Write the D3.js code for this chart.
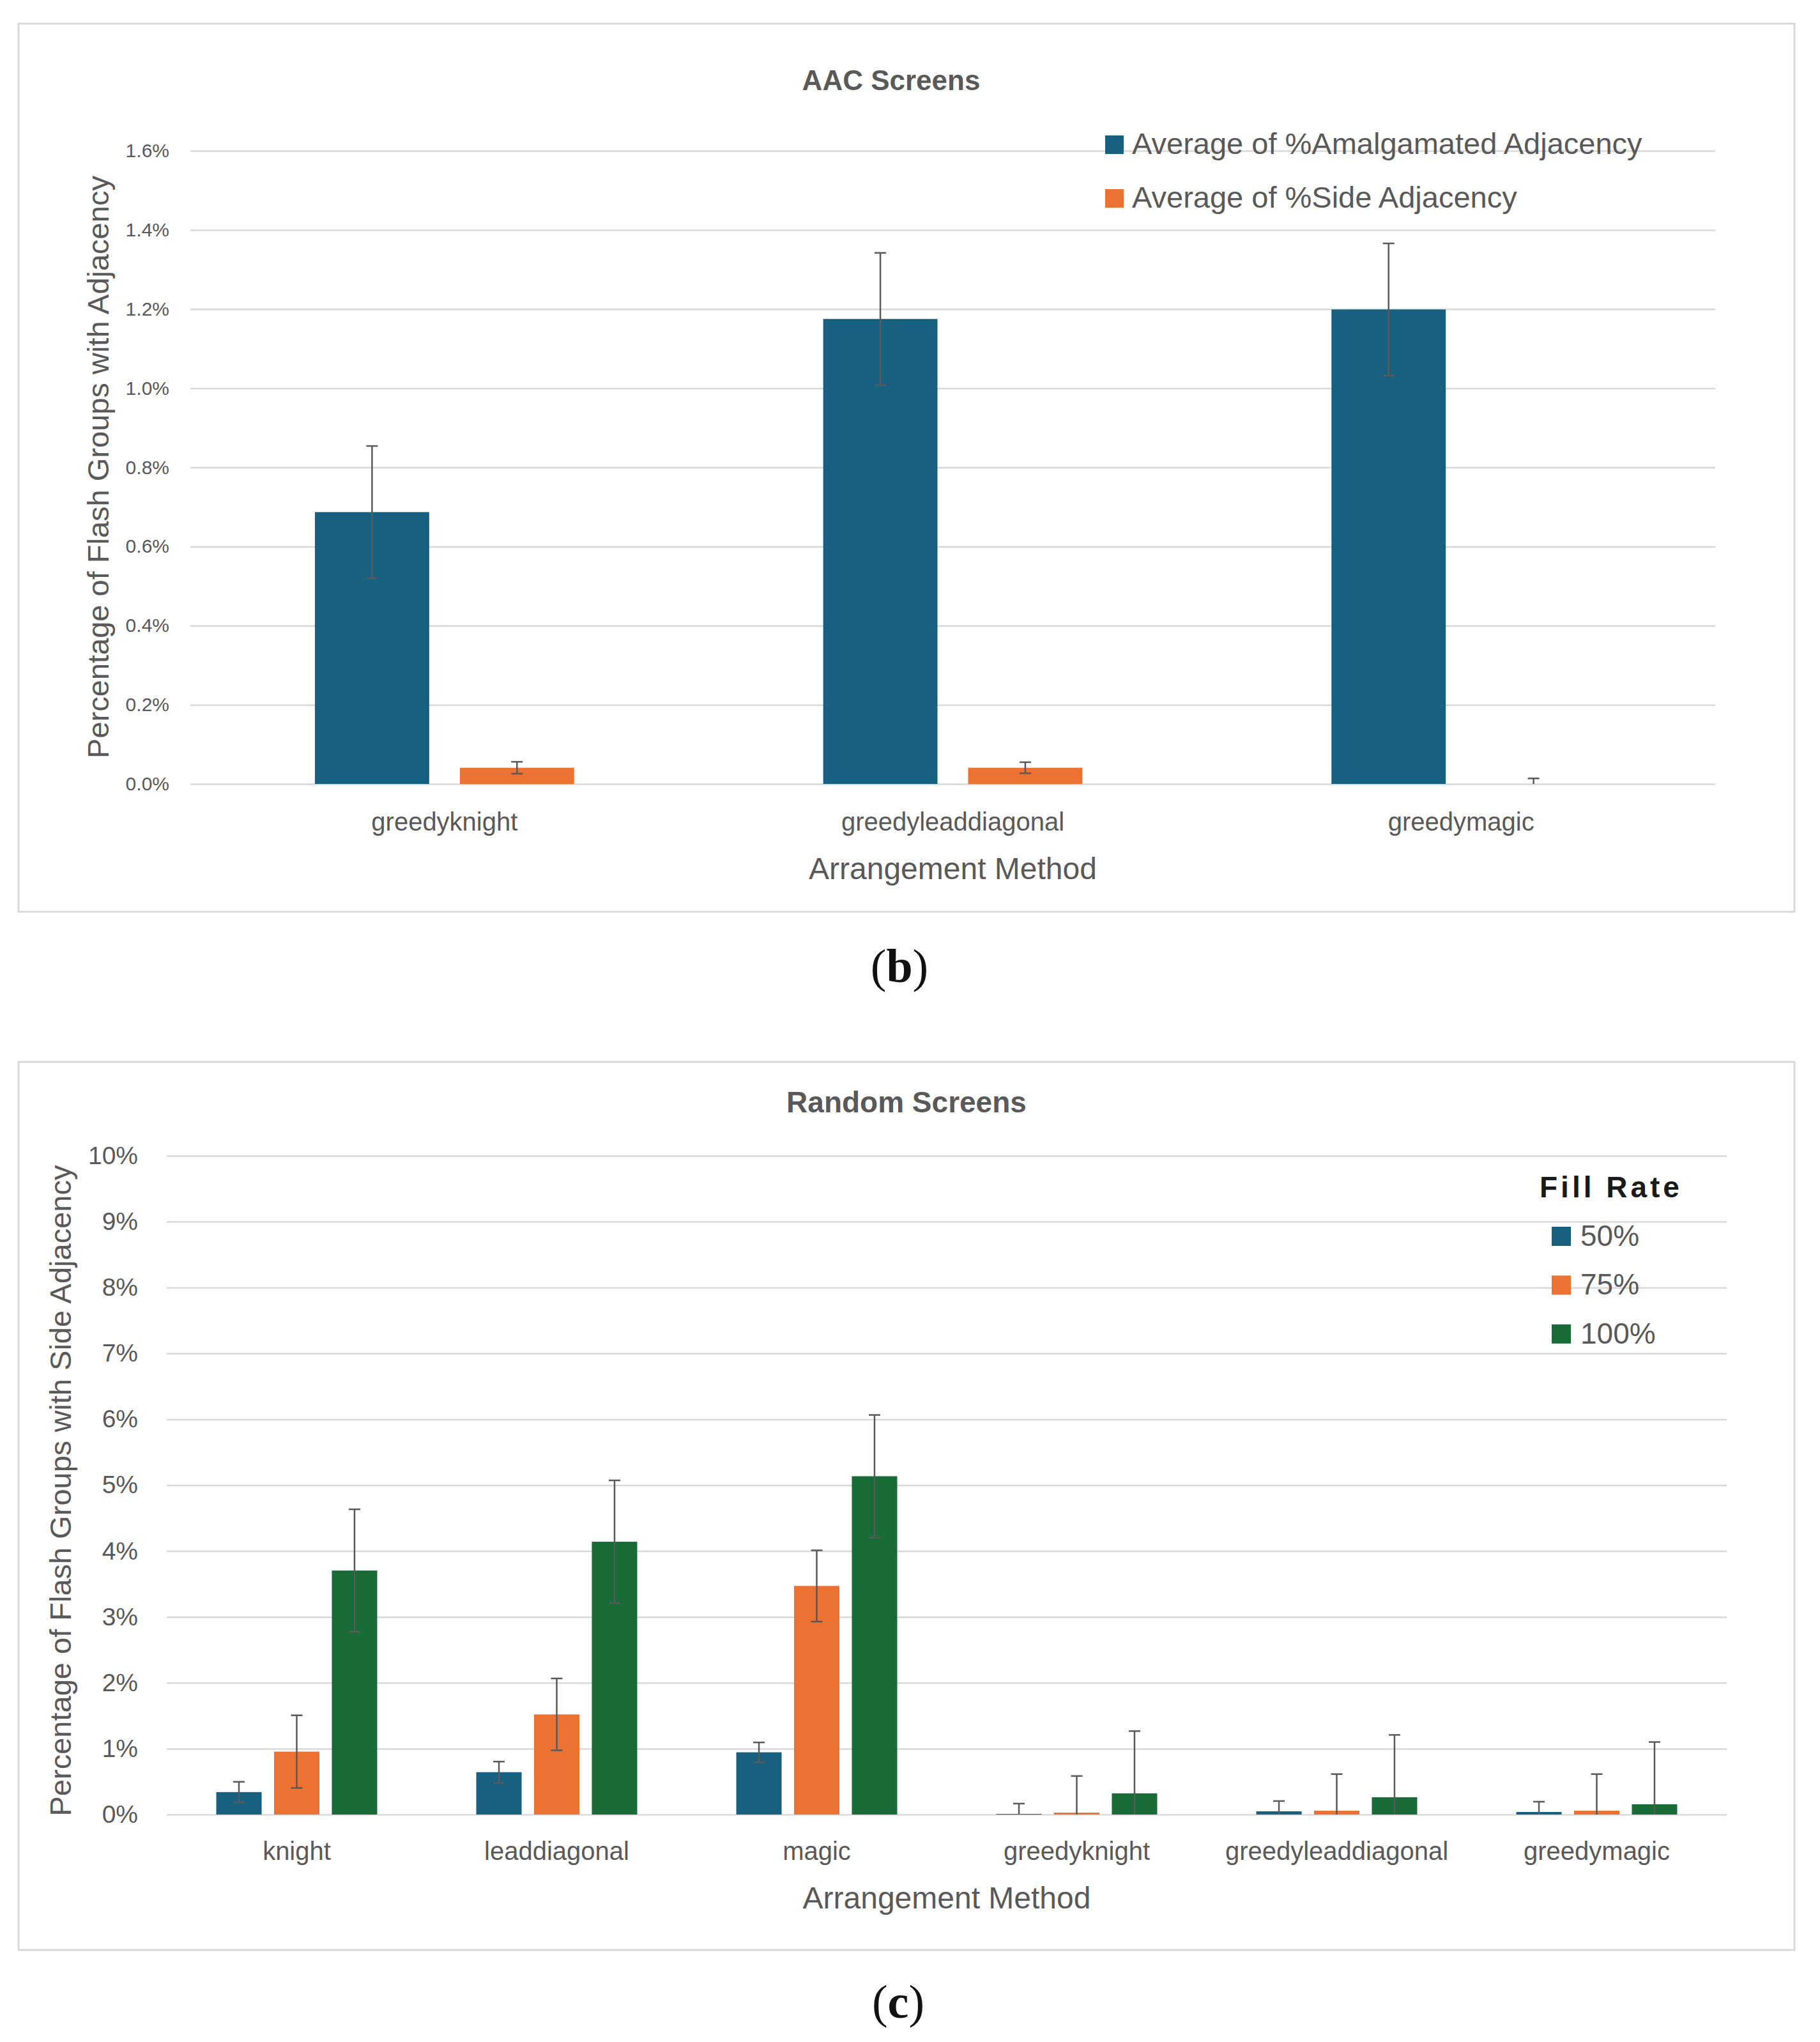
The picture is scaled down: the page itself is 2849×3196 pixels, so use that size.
<!DOCTYPE html>
<html>
<head>
<meta charset="utf-8">
<script src="https://cdn.jsdelivr.net/npm/d3@7"></script>
<style>
  body { margin: 0; background: #fff; }
  text { font-family: "Liberation Sans", Arial, sans-serif; }
  .serif { font-family: "Liberation Serif", "Times New Roman", serif; }
</style>
</head>
<body>
<svg id="chart"></svg>
<script>
// (b) AAC screens
var aacCategories = ["greedyknight", "greedyleaddiagonal", "greedymagic"];
var aacSeries = ["Average of %Amalgamated Adjacency", "Average of %Side Adjacency"];
var aacAmalgamated = [0.687, 1.175, 1.199];
var aacAmalgamatedErr = [0.167, 0.167, 0.167];
var aacSide = [0.041, 0.041, 0];
var aacSideErr = [0.015, 0.014, 0.014];
var aacTicks = [0, 0.2, 0.4, 0.6, 0.8, 1.0, 1.2, 1.4, 1.6];

// (c) random screens
var randCategories = ["knight", "leaddiagonal", "magic", "greedyknight", "greedyleaddiagonal", "greedymagic"];
var fillRates = ["50%", "75%", "100%"];
var rand50 = [0.341, 0.643, 0.945, 0.01, 0.049, 0.039];
var rand50Err = [0.156, 0.161, 0.15, 0.156, 0.156, 0.156];
var rand75 = [0.955, 1.52, 3.47, 0.029, 0.058, 0.058];
var rand75Err = [0.551, 0.546, 0.541, 0.556, 0.556, 0.556];
var rand100 = [3.704, 4.142, 5.136, 0.322, 0.263, 0.156];
var rand100Err = [0.93, 0.931, 0.93, 0.945, 0.946, 0.945];
var randTicks = [0, 1, 2, 3, 4, 5, 6, 7, 8, 9, 10];

var blue = "#17607f", orange = "#ec7233", green = "#196b38";
var grey = "#595959", gridColor = "#d9d9d9";

var svg = d3.select("#chart")
    .attr("width", 2849)
    .attr("height", 3196);

svg.append("rect").attr("width", 2849).attr("height", 3196).attr("fill", "#fff");

function drawPanel(p) {
  var g = svg.append("g");

  g.append("rect")
    .attr("x", p.box[0]).attr("y", p.box[1])
    .attr("width", p.box[2]).attr("height", p.box[3])
    .attr("fill", "#fff")
    .attr("stroke", gridColor)
    .attr("stroke-width", 3);

  var y = d3.scaleLinear().domain([0, p.yMax]).range([p.bottom, p.top]);
  var x0 = d3.scaleBand().domain(p.categories).range([p.left, p.right])
    .paddingInner(p.padIn).paddingOuter(p.padIn / 2);
  var x1 = d3.scaleBand().domain(p.series).range([0, x0.bandwidth()])
    .paddingInner(p.barPad);

  // gridlines + tick labels
  var yAxis = g.append("g")
    .attr("transform", "translate(" + p.left + ",0)")
    .call(d3.axisLeft(y).tickValues(p.ticks).tickFormat(p.fmt)
      .tickSize(-(p.right - p.left)).tickPadding(p.tickPad));
  yAxis.select(".domain").remove();
  yAxis.selectAll("line").attr("stroke", gridColor).attr("stroke-width", 2.5);
  yAxis.selectAll("text").attr("fill", grey).attr("font-size", p.tickFont);

  // bars
  var rows = [];
  p.categories.forEach(function(c, i) {
    p.series.forEach(function(s, j) {
      rows.push({ cat: c, ser: s, v: p.values[j][i], e: p.errors[j][i], color: p.colors[j] });
    });
  });

  g.selectAll(".bar")
    .data(rows)
    .enter().append("rect")
    .attr("class", "bar")
    .attr("x", function(d) { return x0(d.cat) + x1(d.ser); })
    .attr("y", function(d) { return y(d.v); })
    .attr("width", x1.bandwidth())
    .attr("height", function(d) { return y(0) - y(d.v); })
    .attr("fill", function(d) { return d.color; });

  // error bars
  var eb = g.selectAll(".err")
    .data(rows)
    .enter().append("g")
    .attr("class", "err")
    .attr("transform", function(d) { return "translate(" + (x0(d.cat) + x1(d.ser) + x1.bandwidth() / 2) + ",0)"; })
    .attr("stroke", grey)
    .attr("stroke-width", 2.5);
  eb.append("line")
    .attr("y1", function(d) { return y(Math.max(0, d.v - d.e)); })
    .attr("y2", function(d) { return y(d.v + d.e); });
  eb.append("line")
    .attr("x1", -9).attr("x2", 9)
    .attr("y1", function(d) { return y(d.v + d.e); })
    .attr("y2", function(d) { return y(d.v + d.e); });
  eb.filter(function(d) { return d.v - d.e > 0; }).append("line")
    .attr("x1", -9).attr("x2", 9)
    .attr("y1", function(d) { return y(d.v - d.e); })
    .attr("y2", function(d) { return y(d.v - d.e); });

  // category axis
  var xAxis = g.append("g")
    .attr("transform", "translate(0," + p.bottom + ")")
    .call(d3.axisBottom(x0).tickSize(0).tickPadding(p.xPad));
  xAxis.select(".domain").remove();
  xAxis.selectAll("text").attr("fill", grey).attr("font-size", p.xFont);

  // titles
  g.append("text")
    .attr("x", p.titleX).attr("y", p.titleY)
    .attr("text-anchor", "middle")
    .attr("font-size", p.titleFont)
    .attr("font-weight", "bold")
    .attr("fill", grey)
    .text(p.title);

  g.append("text")
    .attr("x", (p.left + p.right) / 2).attr("y", p.xTitleY)
    .attr("text-anchor", "middle")
    .attr("font-size", 48)
    .attr("fill", grey)
    .text("Arrangement Method");

  g.append("text")
    .attr("transform", "translate(" + p.yTitleX + "," + p.yTitleY + ") rotate(-90)")
    .attr("text-anchor", "middle")
    .attr("dy", "0.35em")
    .attr("font-size", p.yTitleFont)
    .attr("fill", grey)
    .text(p.yTitle);

  // legend
  var lg = g.append("g");
  if (p.legendTitle) {
    lg.append("text")
      .attr("x", p.legendTitle.x).attr("y", p.legendTitle.y)
      .attr("font-size", 46)
      .attr("font-weight", "bold")
      .attr("letter-spacing", 5)
      .attr("fill", "#1a1a1a")
      .text(p.legendTitle.text);
  }
  var item = lg.selectAll(".item")
    .data(p.series)
    .enter().append("g")
    .attr("transform", function(d, i) { return "translate(" + p.legend.x + "," + (p.legend.y + i * p.legend.step) + ")"; });
  item.append("rect")
    .attr("x", 0).attr("y", -p.legend.sq)
    .attr("width", p.legend.sq).attr("height", p.legend.sq)
    .attr("fill", function(d, i) { return p.colors[i]; });
  item.append("text")
    .attr("x", p.legend.tx).attr("y", 0)
    .attr("font-size", p.legend.font)
    .attr("fill", grey)
    .text(function(d) { return d; });
}

drawPanel({
  box: [29, 37, 2780, 1390],
  left: 298, right: 2685, top: 236, bottom: 1227,
  yMax: 1.6, ticks: aacTicks,
  fmt: function(d) { return d.toFixed(1) + "%"; },
  tickFont: 30, tickPad: 33,
  categories: aacCategories, series: aacSeries,
  values: [aacAmalgamated, aacSide], errors: [aacAmalgamatedErr, aacSideErr],
  colors: [blue, orange],
  padIn: 0.49, barPad: 0.2115,
  xPad: 45, xFont: 40,
  title: "AAC Screens", titleX: 1395, titleY: 141, titleFont: 44,
  xTitleY: 1376,
  yTitle: "Percentage of Flash Groups with Adjacency", yTitleX: 154, yTitleY: 731, yTitleFont: 47,
  legend: { x: 1730, y: 241, step: 84, sq: 29, tx: 42, font: 47 }
});

drawPanel({
  box: [29, 1662, 2780, 1390],
  left: 261, right: 2703, top: 1809, bottom: 2840,
  yMax: 10, ticks: randTicks,
  fmt: function(d) { return d + "%"; },
  tickFont: 39, tickPad: 45,
  categories: randCategories, series: fillRates,
  values: [rand50, rand75, rand100], errors: [rand50Err, rand75Err, rand100Err],
  colors: [blue, orange, green],
  padIn: 0.381, barPad: 0.215,
  xPad: 43, xFont: 40,
  title: "Random Screens", titleX: 1419, titleY: 1741, titleFont: 46,
  xTitleY: 2987,
  yTitle: "Percentage of Flash Groups with Side Adjacency", yTitleX: 95, yTitleY: 2333, yTitleFont: 47,
  legendTitle: { x: 2410, y: 1874, text: "Fill Rate" },
  legend: { x: 2429, y: 1950, step: 76.4, sq: 30, tx: 45, font: 46 }
});

// panel letters
var letters = [{ t: "b", x: 1408, y: 1537 }, { t: "c", x: 1406, y: 3158 }];
letters.forEach(function(l) {
  var t = svg.append("text")
    .attr("class", "serif")
    .attr("x", l.x).attr("y", l.y)
    .attr("text-anchor", "middle")
    .attr("font-size", 74)
    .attr("fill", "#111");
  t.append("tspan").text("(");
  t.append("tspan").attr("font-weight", "bold").text(l.t);
  t.append("tspan").text(")");
});
</script>
</body>
</html>
